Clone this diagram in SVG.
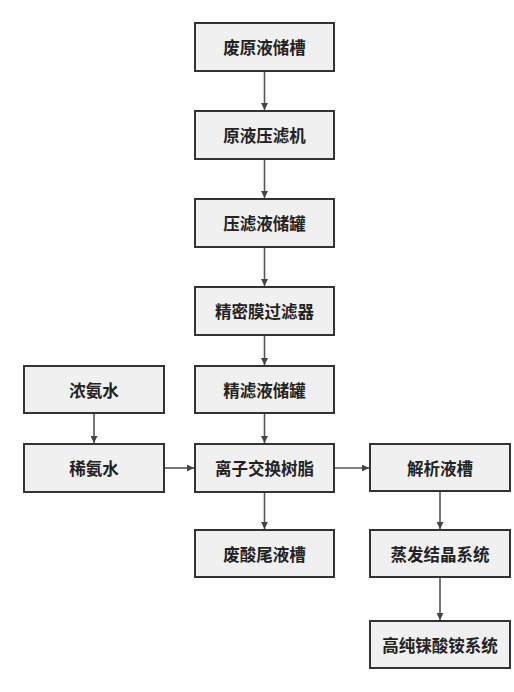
<svg xmlns="http://www.w3.org/2000/svg" width="514" height="692" viewBox="0 0 514 692">
<style>
.box{fill:#f0f0f0;stroke:#333;stroke-width:2}
.lbl{font-family:"Noto Sans CJK SC","Noto Sans",sans-serif;font-size:16.5px;font-weight:bold;fill:#222;text-anchor:middle;dominant-baseline:central}
.ln{stroke:#555;stroke-width:1.6;fill:none;marker-end:url(#ah)}
</style>
<defs>
<marker id="ah" viewBox="0 0 10 10" refX="10" refY="5" markerWidth="7" markerHeight="7" markerUnits="userSpaceOnUse" orient="auto">
<path d="M0,0 L10,5 L0,10 z" fill="#444"/>
</marker>
</defs>
<rect width="514" height="692" fill="#fff"/>
<g id="connectors">
<line class="ln" x1="264.5" y1="71" x2="264.5" y2="110"/>
<line class="ln" x1="264.5" y1="159" x2="264.5" y2="198"/>
<line class="ln" x1="264.5" y1="247" x2="264.5" y2="286"/>
<line class="ln" x1="264.5" y1="335" x2="264.5" y2="365"/>
<line class="ln" x1="264.5" y1="414" x2="264.5" y2="443"/>
<line class="ln" x1="264.5" y1="492" x2="264.5" y2="529"/>
<line class="ln" x1="94" y1="414" x2="94" y2="443"/>
<line class="ln" x1="164" y1="468" x2="194" y2="468"/>
<line class="ln" x1="334" y1="468" x2="369" y2="468"/>
<line class="ln" x1="440" y1="492" x2="440" y2="529"/>
<line class="ln" x1="440" y1="578" x2="440" y2="620"/>
</g>
<g id="n1"><rect class="box" x="195" y="23" width="139" height="48"/><text class="lbl" x="264.5" y="47">废原液储槽</text></g>
<g id="n2"><rect class="box" x="195" y="111" width="139" height="48"/><text class="lbl" x="264.5" y="135">原液压滤机</text></g>
<g id="n3"><rect class="box" x="195" y="199" width="139" height="48"/><text class="lbl" x="264.5" y="223">压滤液储罐</text></g>
<g id="n4"><rect class="box" x="195" y="287" width="139" height="48"/><text class="lbl" x="264.5" y="311">精密膜过滤器</text></g>
<g id="n5"><rect class="box" x="195" y="366" width="139" height="47"/><text class="lbl" x="264.5" y="389.5">精滤液储罐</text></g>
<g id="n6"><rect class="box" x="195" y="444" width="139" height="48"/><text class="lbl" x="264.5" y="468">离子交换树脂</text></g>
<g id="n7"><rect class="box" x="195" y="530" width="139" height="47"/><text class="lbl" x="264.5" y="553.5">废酸尾液槽</text></g>
<g id="n8"><rect class="box" x="24" y="366" width="140" height="47"/><text class="lbl" x="94" y="389.5">浓氨水</text></g>
<g id="n9"><rect class="box" x="24" y="444" width="140" height="48"/><text class="lbl" x="94" y="468">稀氨水</text></g>
<g id="n10"><rect class="box" x="370" y="444" width="140" height="47"/><text class="lbl" x="440" y="467.5">解析液槽</text></g>
<g id="n11"><rect class="box" x="370" y="530" width="140" height="47"/><text class="lbl" x="440" y="553.5">蒸发结晶系统</text></g>
<g id="n12"><rect class="box" x="370" y="621" width="140" height="47"/><text class="lbl" x="440" y="644.5">高纯铼酸铵系统</text></g>
</svg>
